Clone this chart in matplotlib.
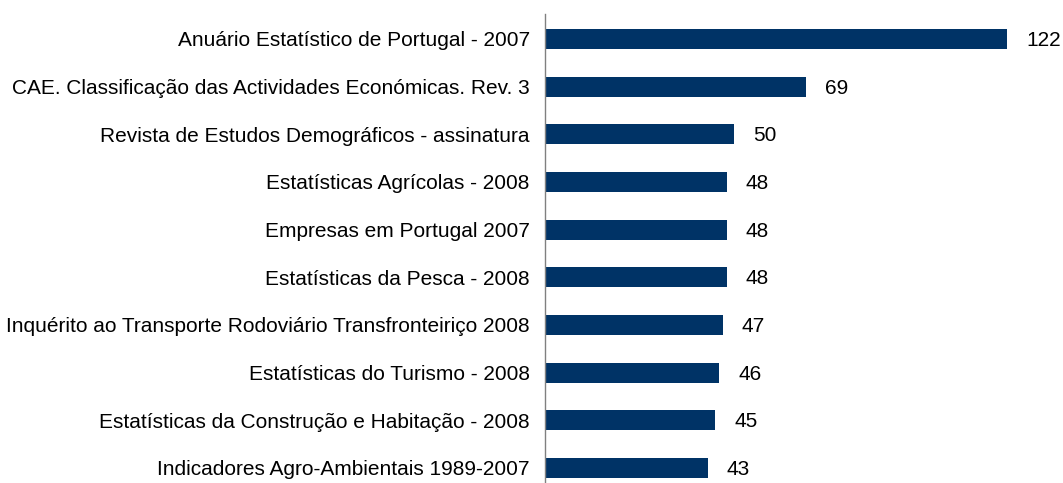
import numpy as np
import matplotlib.pyplot as plt

plt.rcParams['font.family'] = ['Liberation Sans', 'DejaVu Sans']

labels = [
    'Anuário Estatístico de Portugal - 2007',
    'CAE. Classificação das Actividades Económicas. Rev. 3',
    'Revista de Estudos Demográficos - assinatura',
    'Estatísticas Agrícolas - 2008',
    'Empresas em Portugal 2007',
    'Estatísticas da Pesca - 2008',
    'Inquérito ao Transporte Rodoviário Transfronteiriço 2008',
    'Estatísticas do Turismo - 2008',
    'Estatísticas da Construção e Habitação - 2008',
    'Indicadores Agro-Ambientais 1989-2007',
]
values = [122, 69, 50, 48, 48, 48, 47, 46, 45, 43]

fig = plt.figure(figsize=(10.63, 4.83), dpi=100)
ax = fig.add_axes([545 / 1063, 0, 518 / 1063, 1 - 14 / 483])

y = np.arange(len(values))
ax.barh(y, values, height=0.42, color='#003366')

# espaco entre barras ~47.67 px
ax.set_ylim(len(values) - 1 + 0.315, -0.524)
ax.set_xlim(0, 122 * 518 / 462)

ax.set_yticks(y)
ax.set_yticklabels(labels, fontsize=15)
ax.set_xticks([])
ax.tick_params(axis='y', length=0, pad=11)

for s in ['top', 'right', 'bottom']:
    ax.spines[s].set_visible(False)
ax.spines['left'].set_color('#808080')
ax.spines['left'].set_linewidth(1.0)

for i, v in enumerate(values):
    ax.text(v + 5, i + 0.03, str(v), va='center', ha='left', fontsize=15)

fig.savefig('out.png', dpi=100)
